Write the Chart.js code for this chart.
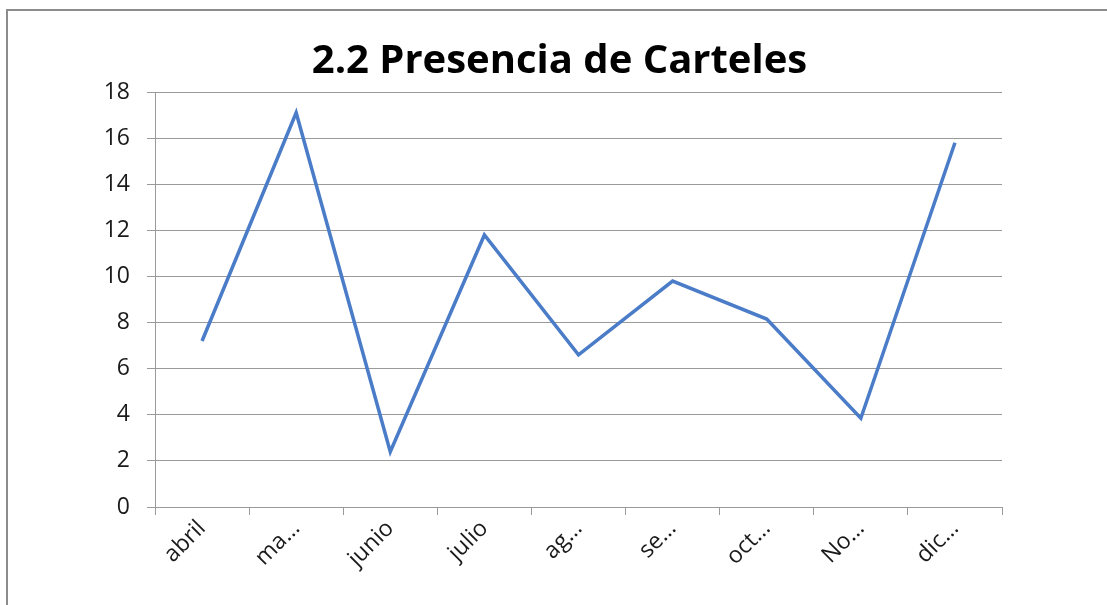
<!DOCTYPE html>
<html>
<head>
<meta charset="utf-8">
<script src="https://cdn.jsdelivr.net/npm/chart.js@4"></script>
<style>
  body { margin: 0; background: #fff; }
  #frame { position: absolute; left: 6px; top: 9px; width: 1200px; height: 700px;
           border-left: 2px solid #8c8c8c; border-top: 2px solid #8c8c8c; }
  #wrap { position: absolute; left: 0; top: 0; width: 1107px; height: 605px; }
</style>
</head>
<body>
<div id="frame"></div>
<div id="wrap"><canvas id="myChart"></canvas></div>
<script>
// chart data
var meses = ['abril', 'ma…', 'junio', 'julio', 'ag…', 'se…', 'oct…', 'No…', 'dic…'];
var carteles = [7.2, 17.1, 2.4, 11.8, 6.6, 9.8, 8.15, 3.85, 15.8];
var yTicks = [0, 2, 4, 6, 8, 10, 12, 14, 16, 18];

var ctx = document.getElementById('myChart').getContext('2d');
var myChart = new Chart(ctx, {
  type: 'line',
  data: {
    labels: meses,
    datasets: [{
      data: carteles,
      borderColor: '#4a7cc7',
      borderWidth: 3.5,
      pointRadius: 0,
      tension: 0,
      fill: false
    }]
  },
  options: {
    responsive: true,
    maintainAspectRatio: false,
    animation: false,
    layout: { padding: { top: 38, right: 0, bottom: 0, left: 12 } },
    plugins: {
      legend: { display: false },
      tooltip: { enabled: false },
      title: {
        display: true,
        text: '2.2 Presencia de Carteles',
        color: '#000',
        font: { family: 'Open Sans', size: 40, weight: 'bold' },
        padding: { top: 0, bottom: 6 }
      }
    },
    scales: {
      x: {
        offset: true,
        grid: { drawOnChartArea: false, drawTicks: true, tickLength: 8, color: '#9a9a9a', offset: true },
        border: { color: '#9a9a9a', width: 1 },
        ticks: {
          color: '#1a1a1a',
          font: { family: 'Open Sans', size: 23 },
          minRotation: 45, maxRotation: 45,
          padding: 0
        },
        afterFit: function (scale) { scale.height = 98; }
      },
      y: {
        min: 0, max: 18,
        afterBuildTicks: function (scale) {
          scale.ticks = yTicks.map(function (v) { return { value: v }; });
        },
        grid: { color: '#9a9a9a', tickLength: 8 },
        border: { color: '#9a9a9a', width: 1 },
        ticks: {
          color: '#1a1a1a',
          font: { family: 'Open Sans', size: 23 },
          padding: 17
        },
        afterFit: function (scale) { scale.width = 143; }
      },
      // empty right margin so the plot stops where the reference does
      margen: {
        type: 'linear',
        position: 'right',
        display: true,
        grid: { display: false },
        border: { display: false },
        ticks: { display: false },
        afterFit: function (scale) { scale.width = 105; }
      }
    }
  }
});
</script>
</body>
</html>
